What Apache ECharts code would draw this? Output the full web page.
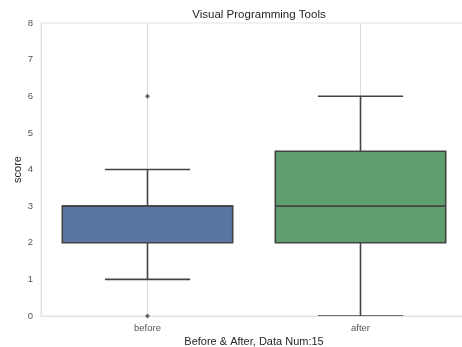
<!DOCTYPE html>
<html>
<head>
<meta charset="utf-8">
<script src="https://cdn.jsdelivr.net/npm/echarts@6/dist/echarts.min.js"></script>
<style>
html, body { margin: 0; padding: 0; background: #fff; }
#chart { width: 462px; height: 347px; }
</style>
</head>
<body>
<div id="chart"></div>
<script>
// Groups shown on the x axis
const categories = ['before', 'after'];
// Five-number summaries: [min whisker, Q1, median, Q3, max whisker]
const beforeStats = [1, 2, 3, 3, 4];
const afterStats = [0, 2, 3, 4.5, 6];
// Points beyond the whiskers: [group index, score]
const outliers = [[0, 6], [0, 0]];
// Y-axis range and step
const yTicks = [0, 1, 2, 3, 4, 5, 6, 7, 8];

const boxColors = ['#5975a4', '#5f9e6e'];
const lineColor = '#444444';
const font = '"Liberation Sans", Arial, sans-serif';

const boxData = [
  [0].concat(beforeStats),
  [1].concat(afterStats)
];

function renderBox(params, api) {
  const idx = api.value(0);
  const band = api.size([1, 0])[0];
  const x = api.coord([idx, 0])[0];
  const yMin = api.coord([idx, api.value(1)])[1];
  const yQ1 = api.coord([idx, api.value(2)])[1];
  const yMed = api.coord([idx, api.value(3)])[1];
  const yQ3 = api.coord([idx, api.value(4)])[1];
  const yMax = api.coord([idx, api.value(5)])[1];
  const boxHalf = band * 0.4;
  const capHalf = band * 0.2;
  const ls = { stroke: lineColor, lineWidth: 1.6 };
  return {
    type: 'group',
    children: [
      { type: 'line', shape: { x1: x, y1: yQ3, x2: x, y2: yMax }, style: ls },
      { type: 'line', shape: { x1: x, y1: yQ1, x2: x, y2: yMin }, style: ls },
      { type: 'line', shape: { x1: x - capHalf, y1: yMax, x2: x + capHalf, y2: yMax }, style: ls },
      { type: 'line', shape: { x1: x - capHalf, y1: yMin, x2: x + capHalf, y2: yMin }, style: ls },
      { type: 'rect', shape: { x: x - boxHalf, y: yQ3, width: boxHalf * 2, height: yQ1 - yQ3 },
        style: { fill: boxColors[idx], stroke: lineColor, lineWidth: 1.6 } },
      { type: 'line', shape: { x1: x - boxHalf, y1: yMed, x2: x + boxHalf, y2: yMed }, style: ls }
    ]
  };
}

function renderGridLine(params, api) {
  const idx = api.value(0);
  const x = api.coord([idx, 0])[0];
  const y0 = api.coord([idx, yTicks[0]])[1];
  const y1 = api.coord([idx, yTicks[yTicks.length - 1]])[1];
  return { type: 'line', shape: { x1: x, y1: y0, x2: x, y2: y1 },
    style: { stroke: '#d9d9d9', lineWidth: 1 } };
}

const chart = echarts.init(document.getElementById('chart'), null, { renderer: 'canvas' });
chart.setOption({
  animation: false,
  backgroundColor: '#ffffff',
  title: {
    text: 'Visual Programming Tools',
    left: 254, top: 4, textAlign: 'center',
    textStyle: { fontFamily: font, fontSize: 11.5, fontWeight: 'normal', color: '#262626' }
  },
  grid: {
    left: 41, top: 23, width: 426, height: 293,
    outerBoundsMode: 'none',
    containLabel: false,
    show: true, borderColor: '#e3e3e3', borderWidth: 1
  },
  xAxis: {
    type: 'category',
    data: categories,
    name: 'Before & After, Data Num:15',
    nameLocation: 'middle',
    nameGap: 20,
    nameMoveOverlap: false,
    nameTextStyle: { fontFamily: font, fontSize: 11, color: '#262626' },
    axisLine: { show: true, lineStyle: { color: '#e3e3e3' } },
    axisTick: { show: false },
    axisLabel: { fontFamily: font, fontSize: 9.5, color: '#555555', margin: 7 },
    splitLine: { show: false }
  },
  yAxis: {
    type: 'value',
    min: yTicks[0], max: yTicks[yTicks.length - 1], interval: 1,
    name: 'score',
    nameLocation: 'middle',
    nameGap: 18,
    nameMoveOverlap: false,
    nameTextStyle: { fontFamily: font, fontSize: 11, color: '#262626' },
    axisLine: { show: true, lineStyle: { color: '#e3e3e3' } },
    axisTick: { show: false },
    axisLabel: { fontFamily: font, fontSize: 9.5, color: '#555555', margin: 8 },
    splitLine: { show: false }
  },
  series: [
    {
      type: 'custom',
      renderItem: renderGridLine,
      data: categories.map((c, i) => [i]),
      encode: { x: 0 },
      z: 1,
      silent: true
    },
    {
      type: 'custom',
      renderItem: renderBox,
      data: boxData,
      encode: { x: 0, y: [1, 2, 3, 4, 5] },
      z: 2,
      clip: true
    },
    {
      type: 'scatter',
      data: outliers,
      symbol: 'diamond',
      symbolSize: 5,
      itemStyle: { color: lineColor },
      z: 3,
      clip: true
    }
  ]
});
</script>
</body>
</html>
